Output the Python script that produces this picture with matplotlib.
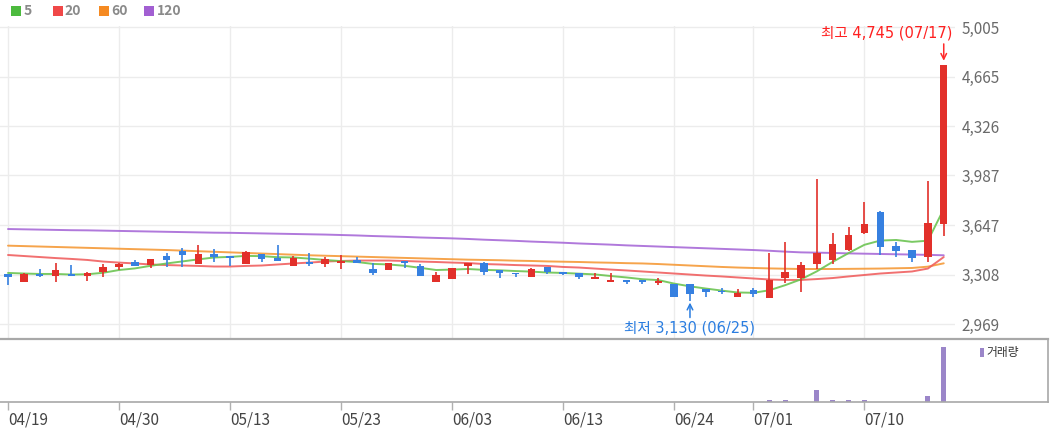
import matplotlib
matplotlib.use('Agg')
import matplotlib.pyplot as plt
from matplotlib.patches import Rectangle
from matplotlib.lines import Line2D
import numpy as np

plt.rcParams['font.family'] = ['Noto Sans CJK KR', 'DejaVu Sans']

# ---------------- data ----------------
dates = ['04/19', '04/22', '04/23', '04/24', '04/25', '04/26', '04/29', '04/30',
         '05/02', '05/03', '05/07', '05/08', '05/09', '05/10', '05/13',
         '05/14', '05/16', '05/17', '05/20', '05/21', '05/22', '05/23',
         '05/24', '05/27', '05/28', '05/29', '05/30', '05/31', '06/03',
         '06/04', '06/05', '06/07', '06/10', '06/11', '06/12', '06/13',
         '06/14', '06/17', '06/18', '06/19', '06/20', '06/21', '06/24',
         '06/25', '06/26', '06/27', '06/28', '07/01',
         '07/02', '07/03', '07/04', '07/05', '07/08', '07/09', '07/10',
         '07/11', '07/12', '07/15', '07/16', '07/17']

opens = [3315, 3257, 3315, 3298, 3312, 3298, 3326, 3360, 3394, 3373,
         3435, 3470, 3380, 3449, 3435, 3380, 3449, 3422, 3367, 3394,
         3380, 3387, 3408, 3346, 3339, 3401, 3367, 3257, 3278, 3367,
         3387, 3339, 3319, 3288, 3360, 3326, 3319, 3278, 3257, 3271,
         3271, 3250, 3243, 3243, 3209, 3195, 3154, 3202, 3150, 3284,
         3284, 3380, 3408, 3476, 3593, 3737, 3504, 3476, 3429, 3655]
highs = [3315, 3319, 3346, 3387, 3373, 3322, 3380, 3387, 3408, 3415,
         3456, 3490, 3511, 3483, 3435, 3470, 3449, 3511, 3435, 3456,
         3429, 3442, 3429, 3387, 3387, 3401, 3380, 3326, 3353, 3387,
         3394, 3339, 3319, 3353, 3360, 3326, 3319, 3319, 3319, 3271,
         3271, 3285, 3243, 3243, 3209, 3216, 3209, 3216, 3458, 3531,
         3394, 3963, 3593, 3634, 3805, 3744, 3531, 3476, 3949, 4745]
lows = [3236, 3257, 3288, 3257, 3295, 3264, 3291, 3339, 3367, 3353,
        3360, 3360, 3380, 3394, 3367, 3380, 3394, 3401, 3367, 3367,
        3360, 3346, 3387, 3305, 3339, 3353, 3298, 3257, 3278, 3312,
        3305, 3285, 3291, 3288, 3312, 3305, 3278, 3278, 3257, 3243,
        3243, 3236, 3154, 3130, 3154, 3175, 3154, 3154, 3150, 3250,
        3188, 3346, 3380, 3470, 3586, 3442, 3429, 3394, 3394, 3573]
closes = [3288, 3312, 3295, 3339, 3298, 3319, 3360, 3380, 3367, 3415,
          3408, 3442, 3449, 3429, 3422, 3463, 3415, 3401, 3422, 3380,
          3415, 3401, 3387, 3319, 3387, 3387, 3298, 3305, 3353, 3387,
          3326, 3319, 3312, 3346, 3326, 3312, 3291, 3291, 3271, 3257,
          3257, 3264, 3154, 3175, 3188, 3188, 3182, 3175, 3271, 3326,
          3373, 3456, 3517, 3579, 3655, 3497, 3470, 3422, 3661, 4745]

ma5 = [3319, 3315, 3312, 3312, 3308, 3310, 3320, 3339, 3350, 3368,
       3384, 3398, 3412, 3425, 3429, 3436, 3434, 3427, 3425, 3417,
       3408, 3400, 3394, 3381, 3377, 3368, 3354, 3339, 3342, 3346,
       3340, 3337, 3332, 3328, 3322, 3319, 3314, 3309, 3298, 3288,
       3276, 3270, 3246, 3227, 3212, 3198, 3185, 3183, 3200, 3235,
       3275, 3330, 3395, 3455, 3512, 3541, 3545, 3532, 3540, 3757]
ma20 = [3442, 3435, 3428, 3421, 3415, 3408, 3397, 3390, 3384, 3377,
        3373, 3370, 3367, 3363, 3363, 3367, 3370, 3377, 3384, 3390,
        3397, 3401, 3404, 3404, 3404, 3401, 3397, 3394, 3390, 3387,
        3380, 3377, 3373, 3370, 3367, 3360, 3356, 3349, 3342, 3336,
        3329, 3322, 3315, 3308, 3301, 3295, 3288, 3281, 3274, 3271,
        3271, 3277, 3284, 3295, 3305, 3315, 3322, 3329, 3349, 3428]
ma60 = [3506, 3503, 3500, 3497, 3494, 3491, 3488, 3485, 3482, 3479,
        3476, 3472, 3468, 3464, 3460, 3456, 3452, 3448, 3444, 3440,
        3437, 3434, 3431, 3428, 3425, 3422, 3419, 3416, 3413, 3410,
        3408, 3406, 3403, 3401, 3398, 3396, 3394, 3391, 3389, 3386,
        3384, 3380, 3375, 3370, 3365, 3360, 3356, 3353, 3350, 3348,
        3346, 3346, 3346, 3347, 3348, 3349, 3351, 3353, 3362, 3385]
ma120 = [3620, 3618, 3616, 3614, 3612, 3611, 3609, 3607, 3605, 3603,
         3601, 3599, 3597, 3595, 3594, 3592, 3590, 3588, 3586, 3584,
         3582, 3579, 3576, 3572, 3569, 3566, 3562, 3559, 3556, 3552,
         3547, 3543, 3539, 3534, 3530, 3526, 3521, 3517, 3513, 3508,
         3504, 3500, 3496, 3492, 3488, 3484, 3480, 3476, 3471, 3465,
         3460, 3458, 3456, 3453, 3451, 3449, 3447, 3445, 3443, 3440]

volume = [0] * 48 + [4, 4, 0, 22, 4, 4, 4, 0, 0, 0, 10.6, 100]

yticks = [2969, 3308, 3647, 3987, 4326, 4665, 5005]
xtick_labels = ['04/19', '04/30', '05/13', '05/23', '06/03', '06/13', '06/24', '07/01', '07/10']
ma_labels = ['5', '20', '60', '120']

high_text = '최고 4,745 (07/17)'
low_text = '최저 3,130 (06/25)'
high_idx, high_val = dates.index('07/17'), 4745
low_idx, low_val = dates.index('06/25'), 3130

# ---------------- style / layout ----------------
RED = '#e2302a'
BLUE = '#3680e0'
MA_COLORS = ['#6cc452', '#f06060', '#f59a38', '#a86ad8']
LEG_COLORS = ['#4cba3e', '#f04848', '#f58a22', '#a25fd2']
VOL_COLOR = '#9b86c9'
ANN_FONT = ['DejaVu Sans', 'Noto Sans CJK KR']

W, H = 1050, 434
fig = plt.figure(figsize=(W / 100, H / 100), dpi=100)
fig.patch.set_facecolor('white')

X0, DX = 8.0, 15.86        # pixel x of first candle, pixels per candle
Y_TOP_TICK, PXW = 27.0, 0.14587  # pixel y of 5005, pixels per won


def rect(l, t, r, b):
    return [l / W, 1 - b / H, (r - l) / W, (b - t) / H]


def xlim_for(l, r):
    return ((l - X0) / DX, (r - X0) / DX)


def fx(x):
    return x / W


def fy(y):
    return 1 - y / H


idx = np.arange(len(dates))
o = np.array(opens, float)
hi = np.array(highs, float)
lo = np.array(lows, float)
c = np.array(closes, float)
tick_pos = [dates.index(t) for t in xtick_labels]

# ---------------- price panel ----------------
ax = fig.add_axes(rect(0, 26, 955, 338))
ax.set_xlim(*xlim_for(0, 955))
ax.set_ylim(5005 - (338 - Y_TOP_TICK) / PXW, 5005 + (Y_TOP_TICK - 26) / PXW)
for s in ax.spines.values():
    s.set_visible(False)
ax.set_yticks(yticks)
ax.set_yticklabels([f'{v:,}' for v in yticks])
ax.yaxis.tick_right()
ax.tick_params(axis='y', length=0, pad=4.5, labelsize=11, labelcolor='#6a6a6a')
ax.set_xticks(tick_pos)
ax.tick_params(axis='x', length=0, labelbottom=False)
ax.grid(True, color='#ececec', lw=1.0)
ax.set_axisbelow(True)

for vals, col in zip([ma120, ma60, ma20, ma5], MA_COLORS[::-1]):
    ax.plot(idx, vals, color=col, lw=1.4, alpha=0.9, zorder=2, solid_capstyle='round')

up = c >= o
cols = np.where(up, RED, BLUE)
ax.vlines(idx, lo, hi, colors=cols, lw=1.2, zorder=3)
body_lo = np.minimum(o, c)
body_h = np.abs(c - o)
min_h = 1.6 / PXW
small = body_h < min_h
body_lo = np.where(small, (o + c) / 2 - min_h / 2, body_lo)
body_h = np.where(small, min_h, body_h)
ax.bar(idx, body_h, bottom=body_lo, width=0.47, color=cols, lw=0, zorder=4)

# annotations
ax.annotate('', xy=(high_idx, high_val), xytext=(0, 21), textcoords='offset pixels',
            arrowprops=dict(arrowstyle='->', color='#ff2a2a', lw=1.1, shrinkA=0, shrinkB=3))
ax.annotate(high_text, xy=(high_idx, high_val), xytext=(8.5, 32), textcoords='offset pixels',
            ha='right', va='center', color='#ff2020', fontsize=10.5, family=ANN_FONT)
ax.annotate('', xy=(low_idx, low_val), xytext=(0, -17), textcoords='offset pixels',
            arrowprops=dict(arrowstyle='->', color='#2a7de0', lw=1.1, shrinkA=0, shrinkB=1.5))
ax.annotate(low_text, xy=(low_idx, low_val), xytext=(0, -27), textcoords='offset pixels',
            ha='center', va='center', color='#2a7de0', fontsize=10.5, family=ANN_FONT,
            annotation_clip=False)

# ---------------- volume panel ----------------
axv = fig.add_axes(rect(0, 339, 1048, 402))
axv.set_xlim(*xlim_for(0, 1048))
axv.set_ylim(0, 115)
axv.bar(idx, volume, width=0.32, color=VOL_COLOR, lw=0)
for k in ['top', 'left']:
    axv.spines[k].set_visible(False)
for k in ['right', 'bottom']:
    axv.spines[k].set_color('#a8a8a8')
    axv.spines[k].set_linewidth(1.2)
axv.set_yticks([])
axv.set_xticks(tick_pos)
axv.set_xticklabels(xtick_labels, ha='left')
axv.tick_params(axis='x', length=6, width=1, color='#b0b0b0', pad=0.5,
                labelsize=11, labelcolor='#444444')
for lab in axv.get_xticklabels():
    lab.set_horizontalalignment('left')

# separator between panels
fig.add_artist(Line2D([0, fx(1048)], [fy(338.5), fy(338.5)], color='#a8a8a8', lw=1.6))

# volume legend
fig.add_artist(Rectangle((fx(980), fy(357)), 3.5 / W, 9 / H, transform=fig.transFigure,
                         color=VOL_COLOR, lw=0))
fig.text(fx(986), fy(352.5), '거래량', ha='left', va='center', fontsize=8.5, color='#333333')

# MA legend
leg_sq_x = [10.7, 52.7, 99, 144]
leg_tx_x = [23.5, 64, 111, 157]
for sx, tx, lab, col in zip(leg_sq_x, leg_tx_x, ma_labels, LEG_COLORS):
    fig.add_artist(Rectangle((fx(sx), fy(16)), 10 / W, 10 / H, transform=fig.transFigure,
                             color=col, lw=0))
    fig.text(fx(tx), fy(11), lab, ha='left', va='center', fontsize=10,
             fontweight='bold', color='#8a8a8a')

fig.savefig('out.png', dpi=100, facecolor='white')
